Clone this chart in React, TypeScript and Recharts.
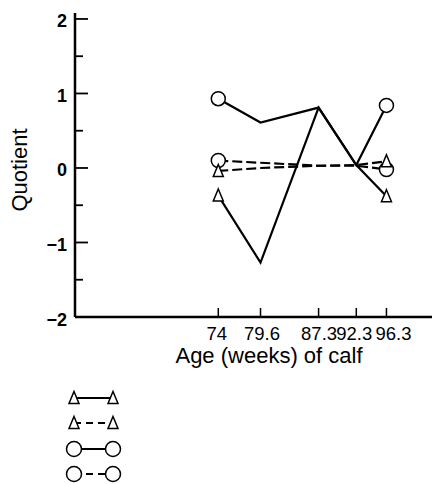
import React from 'react';
import { LineChart, Line, XAxis, YAxis, Label } from 'recharts';

const ages = [74, 79.6, 87.3, 92.3, 96.3];
const triSolid = [-0.37, -1.27, 0.81, 0.04, -0.38];
const triDashed = [-0.04, 0.0, 0.03, 0.04, 0.09];
const circSolid = [0.93, 0.61, 0.81, 0.04, 0.84];
const circDashed = [0.1, 0.07, 0.03, 0.03, -0.02];
const yTicks = [-2, -1.5, -1, -0.5, 0, 0.5, 1, 1.5, 2];

const data = ages.map((age, i) => ({
  age,
  triSolid: triSolid[i],
  triDashed: triDashed[i],
  circSolid: circSolid[i],
  circDashed: circDashed[i],
}));

const FONT = '"Liberation Sans", Arial, Helvetica, sans-serif';
// small horizontal nudges of the x tick labels, as in the reference, to keep the close labels apart
const xLabelNudge = [-1.5, 1.5, 0.5, -2, 7];

const tri = (cx: number, cy: number) =>
  `M${cx},${cy - 6.5} L${cx + 5},${cy + 5.5} L${cx - 5},${cy + 5.5} Z`;

const makeDot = (shape: 'tri' | 'circ') => (props: any) => {
  const { cx, cy, index } = props;
  const last = ages.length - 1;
  if (index !== 0 && index !== last) return <g key={`d${index}`} />;
  if (shape === 'circ')
    return <circle key={`d${index}`} cx={cx} cy={cy} r={7} fill="#fff" stroke="#000" strokeWidth={1.5} />;
  return <path key={`d${index}`} d={tri(cx, cy)} fill="#fff" stroke="#000" strokeWidth={1.5} strokeLinejoin="miter" />;
};

const YTick = (props: any) => {
  const { x, y, payload } = props;
  const v = payload.value as number;
  const major = Number.isInteger(v);
  return (
    <g>
      <line x1={x} y1={y} x2={x + (major ? 13 : 8)} y2={y} stroke="#000" strokeWidth={1.8} />
      {major && (
        <text x={x - 8} y={y + 8.5} textAnchor="end" fontFamily={FONT} fontSize={18} fontWeight="bold" fill="#000">
          {v < 0 ? `\u2212${Math.abs(v)}` : String(v)}
        </text>
      )}
    </g>
  );
};

const XTick = (props: any) => {
  const { x, y, payload, index } = props;
  const nudge = xLabelNudge[index] ?? 0;
  return (
    <g>
      <line x1={x} y1={y} x2={x} y2={y - 9} stroke="#000" strokeWidth={1.5} />
      <text x={x + nudge} y={y + 23} textAnchor="middle" fontFamily={FONT} fontSize={18.5} fill="#000">
        {String(payload.value)}
      </text>
    </g>
  );
};

const XLabel = (props: any) => {
  const vb = props.viewBox || { x: 67, y: 309, width: 365 };
  return (
    <text x={261} y={vb.y + 46} textAnchor="middle" fontFamily={FONT} fontSize={22} fill="#000">
      Age (weeks) of calf
    </text>
  );
};

const YLabel = (props: any) => {
  const vb = props.viewBox || { x: 0, y: 5, height: 304 };
  const cx = 11;
  const cy = vb.y + vb.height / 2 + 5;
  return (
    <text
      x={cx}
      y={cy}
      transform={`rotate(-90 ${cx} ${cy})`}
      textAnchor="middle"
      dominantBaseline="central"
      fontFamily={FONT}
      fontSize={22}
      fill="#000"
    >
      Quotient
    </text>
  );
};

const LegendRows = () => {
  const rows = [
    { shape: 'tri', dash: false, y: 390 },
    { shape: 'tri', dash: true, y: 415 },
    { shape: 'circ', dash: false, y: 441 },
    { shape: 'circ', dash: true, y: 466 },
  ];
  const x1 = 66;
  const x2 = 105;
  return (
    <svg width={432} height={476} style={{ position: 'absolute', left: 0, top: 0, pointerEvents: 'none' }}>
      {rows.map((r, i) => (
        <g key={i}>
          <line
            x1={x1}
            y1={r.y}
            x2={x2}
            y2={r.y}
            stroke="#000"
            strokeWidth={2.2}
            strokeDasharray={r.dash ? '7 5' : undefined}
          />
          {r.shape === 'tri' ? (
            <>
              <path d={tri(x1, r.y)} fill="#fff" stroke="#000" strokeWidth={1.5} />
              <path d={tri(x2, r.y)} fill="#fff" stroke="#000" strokeWidth={1.5} />
            </>
          ) : (
            <>
              <circle cx={x1} cy={r.y} r={7.5} fill="#fff" stroke="#000" strokeWidth={1.5} />
              <circle cx={x2} cy={r.y} r={7.5} fill="#fff" stroke="#000" strokeWidth={1.5} />
            </>
          )}
        </g>
      ))}
    </svg>
  );
};

export default function App() {
  return (
    <div style={{ position: 'relative', width: 432, height: 476, background: '#fff' }}>
      <LineChart
        width={432}
        height={476}
        data={data}
        margin={{ top: 5, right: 0, bottom: 107, left: 0 }}
      >
        <XAxis
          dataKey="age"
          type="number"
          domain={[55, 103.4]}
          ticks={ages}
          interval={0}
          allowDataOverflow
          height={60}
          tickSize={0}
          tickMargin={0}
          tickLine={false}
          axisLine={{ stroke: '#000', strokeWidth: 2.5 }}
          tick={<XTick />}
        >
          <Label content={<XLabel />} />
        </XAxis>
        <YAxis
          type="number"
          domain={[-2, 2.08]}
          ticks={yTicks}
          interval={0}
          allowDataOverflow
          width={67}
          tickSize={0}
          tickMargin={0}
          tickLine={false}
          axisLine={{ stroke: '#000', strokeWidth: 2.5 }}
          tick={<YTick />}
        >
          <Label content={<YLabel />} />
        </YAxis>
        <Line
          dataKey="triSolid"
          stroke="#000"
          strokeWidth={2.2}
          dot={makeDot('tri')}
          activeDot={false}
          isAnimationActive={false}
          type="linear"
        />
        <Line
          dataKey="circSolid"
          stroke="#000"
          strokeWidth={2.2}
          dot={makeDot('circ')}
          activeDot={false}
          isAnimationActive={false}
          type="linear"
        />
        <Line
          dataKey="circDashed"
          stroke="#000"
          strokeWidth={2.2}
          strokeDasharray="10 4"
          dot={makeDot('circ')}
          activeDot={false}
          isAnimationActive={false}
          type="linear"
        />
        <Line
          dataKey="triDashed"
          stroke="#000"
          strokeWidth={2.2}
          strokeDasharray="10 4"
          dot={makeDot('tri')}
          activeDot={false}
          isAnimationActive={false}
          type="linear"
        />
      </LineChart>
      <LegendRows />
    </div>
  );
}
